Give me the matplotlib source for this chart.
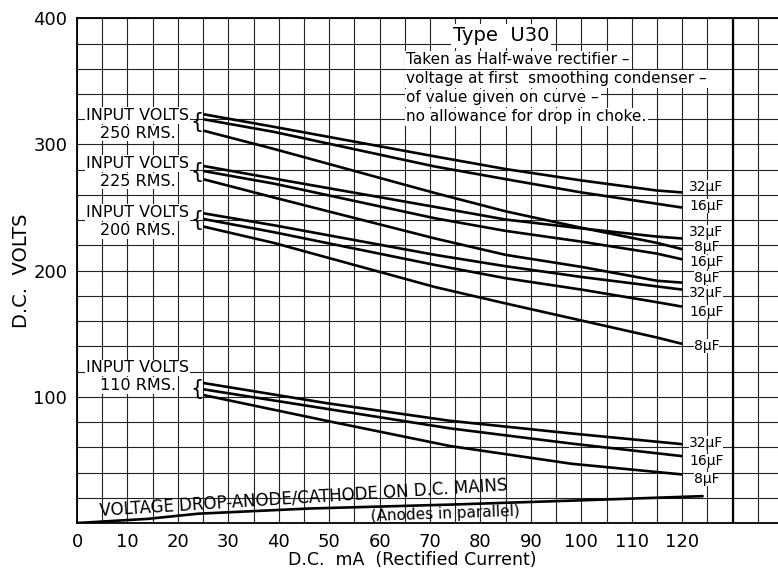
import matplotlib
matplotlib.use("Agg")
import matplotlib.pyplot as plt
from matplotlib.ticker import MultipleLocator, FixedLocator

plt.rcParams["font.family"] = ["DejaVu Sans"]

# D.C. mA points where the rectifier curves were read
x_main = [25, 39, 71, 85, 100, 115, 120]
v250_32 = [324, 314, 290.5, 280.5, 271.5, 263.5, 262]
v250_16 = [320, 310, 282.5, 272.5, 262, 253, 250]
v250_8 = [311, 296.5, 261.5, 247, 234, 222, 217]
v225_32 = [283, 273, 250.5, 240.5, 233.5, 227, 225.5]
v225_16 = [279, 269, 241.5, 231.5, 223, 213.5, 209]
v225_8 = [272.5, 258, 225.5, 212.5, 203, 192, 190.5]
v200_32 = [245.5, 236, 212.5, 203.5, 195, 187.5, 185]
v200_16 = [241, 230.5, 204.5, 194, 185, 175, 171.5]
v200_8 = [235, 222, 187, 174, 160.5, 147, 142]

x_110 = [25, 49.5, 74, 98, 120]
v110_32 = [111, 95, 81, 71, 62.5]
v110_16 = [106, 90.5, 75, 63, 53]
v110_8 = [101.5, 81, 61, 47, 38.5]

# voltage drop anode/cathode on D.C. mains
drop_x = [0, 14, 24, 46, 74, 100, 124]
drop_v = [0, 3.3, 7.4, 11.5, 14.6, 18, 21.3]

# end labels: (text, y position of label)
end_labels = [
    ("32", 266), ("16", 251), ("32", 231), ("8", 219), ("16", 207),
    ("8", 194.5), ("32", 182), ("16", 167), ("8", 140),
    ("32", 63.5), ("16", 49), ("8", 35),
]

# input voltage group labels: (rms, y of "INPUT VOLTS", y of rms line, brace y)
groups = [
    ("250", 323, 309, 318),
    ("225", 285, 271, 278),
    ("200", 246, 232, 240),
    ("110", 123, 109, 106),
]

x_ticks = list(range(0, 130, 10))
y_ticks = [100, 200, 300, 400]

fig = plt.figure(figsize=(7.78, 5.71), dpi=100)
ax = fig.add_axes([0.099, 0.084, 0.901, 0.884])
ax.set_xlim(0, 139)
ax.set_ylim(0, 400)

ax.xaxis.set_major_locator(FixedLocator(x_ticks))
ax.xaxis.set_minor_locator(MultipleLocator(5))
ax.yaxis.set_major_locator(FixedLocator(y_ticks))
ax.yaxis.set_minor_locator(MultipleLocator(20))
ax.grid(which="both", color="#222222", linewidth=0.8)
ax.set_axisbelow(True)
ax.tick_params(which="both", length=0)
ax.tick_params(axis="x", pad=7, labelsize=13)
ax.tick_params(axis="y", pad=7, labelsize=13)

for side in ["left", "bottom", "top"]:
    ax.spines[side].set_linewidth(1.3)
ax.spines["right"].set_visible(False)
ax.axvline(130, color="black", linewidth=1.6)

lw = 1.9
for v in [v250_32, v250_16, v250_8, v225_32, v225_16, v225_8,
          v200_32, v200_16, v200_8]:
    ax.plot(x_main, v, color="black", linewidth=lw, solid_capstyle="butt")
for v in [v110_32, v110_16, v110_8]:
    ax.plot(x_110, v, color="black", linewidth=lw, solid_capstyle="butt")
ax.plot(drop_x, drop_v, color="black", linewidth=lw)

for txt, y in end_labels:
    xpos = 121.4 if txt != "8" else 122.3
    ax.text(xpos, y, txt + "μF", fontsize=10, ha="left", va="center",
            bbox=dict(facecolor="white", edgecolor="none", pad=0))

box = dict(facecolor="white", edgecolor="none", pad=0.6)
for rms, y1, y2, yb in groups:
    ax.text(12, y1, "INPUT VOLTS", fontsize=11.5, ha="center", va="center", bbox=box)
    ax.text(12, y2, rms + " RMS.", fontsize=11.5, ha="center", va="center", bbox=box)
    ax.text(25.2, yb, "{", fontsize=15, ha="right", va="center")

ax.text(74.5, 386, "Type  U30", fontsize=14, ha="left", va="center",
        bbox=dict(facecolor="white", edgecolor="none", pad=1.5))
notes = [
    "Taken as Half-wave rectifier –",
    "voltage at first  smoothing condenser –",
    "of value given on curve –",
    "no allowance for drop in choke.",
]
for i, line in enumerate(notes):
    ax.text(65.3, 367 - i * 15, line, fontsize=11, ha="left", va="center",
            bbox=dict(facecolor="white", edgecolor="none", pad=1.2))

ax.text(4.6, 3.2, "VOLTAGE DROP-ANODE/CATHODE ON D.C. MAINS", fontsize=12,
        ha="left", va="bottom", rotation=3.6, rotation_mode="anchor")
ax.text(73, 7.5, "(Anodes in parallel)", fontsize=11, ha="center", va="center",
        rotation=2)

fig.text(0.027, 0.525, "D.C.  VOLTS", rotation=90, fontsize=14,
         ha="center", va="center")
fig.text(0.53, 0.004, "D.C.  mA  (Rectified Current)", fontsize=12.5,
         ha="center", va="bottom")

fig.savefig("out.png", dpi=100)
